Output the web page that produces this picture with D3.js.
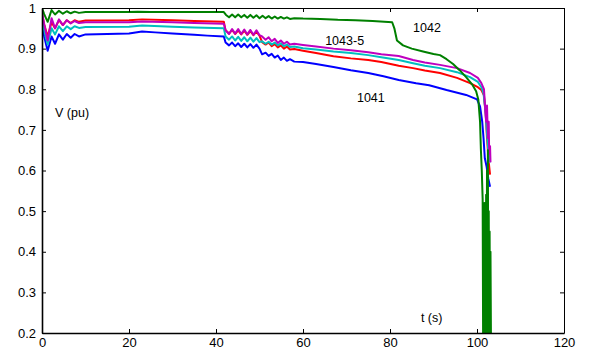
<!DOCTYPE html>
<html>
<head>
<meta charset="utf-8">
<script src="https://cdn.jsdelivr.net/npm/d3@7"></script>
<style>
  body { margin: 0; background: #fff; }
  text { font-family: "Liberation Sans", Arial, sans-serif; }
</style>
</head>
<body>
<div id="chart"></div>
<script>
// tick values
const xTicks = [0, 20, 40, 60, 80, 100, 120]
const yTicks = [0.2, 0.3, 0.4, 0.5, 0.6, 0.7, 0.8, 0.9, 1]

// bus 1042 (green)
const bus1042 = [
  [0, 1.0], [0.5, 0.985], [1.3, 0.966], [2.2, 0.995], [3.0, 0.984], [3.9, 0.993], [4.8, 0.986],
  [5.7, 0.992], [6.6, 0.987], [7.5, 0.991], [8.5, 0.988], [10, 0.99], [15, 0.99], [20, 0.99],
  [22, 0.991], [25, 0.99], [30, 0.99], [35, 0.99], [41.8, 0.99],
  [42.3, 0.983], [43, 0.977], [43.7, 0.984], [44.4, 0.977], [45.1, 0.984], [45.8, 0.977],
  [46.5, 0.983], [47.2, 0.976], [47.9, 0.983], [48.6, 0.976], [49.3, 0.982], [50, 0.975],
  [50.7, 0.981], [51.4, 0.975], [52.1, 0.98], [52.8, 0.974], [53.5, 0.979], [54.2, 0.974],
  [54.9, 0.978], [55.6, 0.974], [56.3, 0.977], [57, 0.973], [58, 0.975], [60, 0.974],
  [64, 0.973], [68, 0.971], [72, 0.97], [76, 0.968], [80.5, 0.965], [81, 0.95], [81.6, 0.92],
  [83, 0.908], [85, 0.9], [87.6, 0.893], [90, 0.887], [91.5, 0.884], [93, 0.874], [94.5, 0.862],
  [96, 0.847], [97.5, 0.83], [99, 0.81], [99.8, 0.795], [100.3, 0.775], [100.7, 0.72],
  [100.9, 0.65], [101.1, 0.6], [101.3, 0.53], [101.4, 0.2], [101.5, 0.5], [101.6, 0.2],
  [101.7, 0.52], [101.8, 0.2], [101.9, 0.5], [102.0, 0.2], [102.1, 0.54], [102.2, 0.2],
  [102.3, 0.6], [102.4, 0.2], [102.5, 0.65], [102.6, 0.2], [102.7, 0.5], [102.8, 0.2],
  [102.9, 0.45], [103.0, 0.2], [103.1, 0.4], [103.2, 0.2]
]

// bus 1041 (blue)
const bus1041 = [
  [0, 0.963], [0.5, 0.93], [1.3, 0.895], [2.2, 0.93], [3.0, 0.912], [3.9, 0.935], [4.8, 0.922],
  [5.7, 0.936], [6.6, 0.927], [7.5, 0.936], [8.5, 0.93], [10, 0.935], [15, 0.936], [20, 0.937],
  [23, 0.942], [26, 0.94], [30, 0.937], [35, 0.934], [38, 0.932], [41.8, 0.93],
  [42.2, 0.915], [43, 0.908], [43.7, 0.915], [44.4, 0.906], [45.1, 0.913], [45.8, 0.904],
  [46.5, 0.912], [47.2, 0.903], [47.9, 0.911], [48.6, 0.902], [49.3, 0.91], [50, 0.9],
  [50.6, 0.886], [51.4, 0.89], [52.1, 0.882], [52.8, 0.887], [53.5, 0.878], [54.2, 0.883],
  [54.9, 0.872], [55.6, 0.878], [56.3, 0.87], [57, 0.874], [58, 0.868], [60, 0.867],
  [63, 0.862], [67, 0.855], [71, 0.847], [75, 0.84], [78.5, 0.832], [82, 0.823], [86, 0.815],
  [89, 0.81], [93, 0.798], [97.5, 0.786], [100, 0.775], [100.7, 0.758], [101.2, 0.72],
  [101.5, 0.68], [101.8, 0.63], [102.2, 0.61], [102.6, 0.58], [103, 0.56]
]

// bus 1043 (red)
const bus1043 = [
  [0, 0.985], [0.5, 0.96], [1.3, 0.93], [2.2, 0.965], [3.0, 0.95], [3.9, 0.97], [4.8, 0.958],
  [5.7, 0.97], [6.6, 0.963], [7.5, 0.97], [8.5, 0.966], [10, 0.969], [20, 0.97], [23, 0.972],
  [30, 0.97], [35, 0.968], [41.8, 0.966],
  [42.2, 0.945], [43, 0.937], [43.7, 0.946], [44.4, 0.936], [45.1, 0.945], [45.8, 0.935],
  [46.5, 0.944], [47.2, 0.934], [47.9, 0.943], [48.6, 0.933], [49.3, 0.942], [50, 0.932],
  [50.6, 0.916], [51.4, 0.91], [52.1, 0.915], [52.8, 0.906], [53.5, 0.911], [54.2, 0.903],
  [54.9, 0.908], [55.6, 0.9], [56.3, 0.905], [57, 0.898], [58, 0.899], [60, 0.895],
  [63, 0.889], [67, 0.881], [71, 0.876], [75, 0.872], [78, 0.867], [82, 0.858],
  [85.3, 0.852], [88, 0.846], [91.5, 0.84], [95.4, 0.828], [98.4, 0.815], [100.2, 0.805],
  [101, 0.798], [101.6, 0.785], [102, 0.74], [102.3, 0.68], [102.7, 0.62], [103, 0.59]
]

// bus 1044 (cyan)
const bus1044 = [
  [0, 0.975], [0.5, 0.945], [1.3, 0.91], [2.2, 0.95], [3.0, 0.935], [3.9, 0.955], [4.8, 0.943],
  [5.7, 0.955], [6.6, 0.948], [7.5, 0.955], [8.5, 0.951], [10, 0.953], [20, 0.954], [23, 0.957],
  [30, 0.954], [35, 0.952], [41.8, 0.95],
  [42.2, 0.93], [43, 0.922], [43.7, 0.93], [44.4, 0.92], [45.1, 0.929], [45.8, 0.919],
  [46.5, 0.928], [47.2, 0.918], [47.9, 0.927], [48.6, 0.917], [49.3, 0.926], [50, 0.916],
  [50.6, 0.918], [51.4, 0.912], [52.1, 0.917], [52.8, 0.91], [53.5, 0.915], [54.2, 0.908],
  [54.9, 0.913], [55.6, 0.906], [56.3, 0.91], [57, 0.904], [58, 0.905], [60, 0.901],
  [63, 0.898], [67, 0.893], [71, 0.889], [75, 0.884], [78, 0.879], [82, 0.872],
  [85.3, 0.864], [88, 0.858], [91.5, 0.852], [95.4, 0.842], [98.4, 0.83], [100.2, 0.818],
  [101, 0.805], [101.5, 0.79], [102, 0.74], [102.3, 0.69], [102.6, 0.65], [103, 0.62]
]

// bus 1045 (magenta)
const bus1045 = [
  [0, 0.99], [0.5, 0.96], [1.3, 0.92], [2.2, 0.975], [3.0, 0.95], [3.9, 0.972], [4.8, 0.958],
  [5.7, 0.97], [6.6, 0.962], [7.5, 0.968], [8.5, 0.963], [10, 0.965], [20, 0.965], [23, 0.967],
  [30, 0.965], [35, 0.963], [41.8, 0.961],
  [42.2, 0.945], [43, 0.936], [43.7, 0.948], [44.4, 0.937], [45.1, 0.948], [45.8, 0.936],
  [46.5, 0.947], [47.2, 0.935], [47.9, 0.946], [48.6, 0.934], [49.3, 0.945], [50, 0.933],
  [50.6, 0.93], [51.4, 0.922], [52.1, 0.928], [52.8, 0.918], [53.5, 0.924], [54.2, 0.914],
  [54.9, 0.92], [55.6, 0.912], [56.3, 0.917], [57, 0.91], [58, 0.912], [60, 0.909],
  [63, 0.905], [67, 0.9], [71, 0.896], [75, 0.891], [78, 0.886], [82, 0.882],
  [85.3, 0.872], [88, 0.866], [91.5, 0.86], [95.4, 0.852], [98.4, 0.84], [100.2, 0.828],
  [101, 0.815], [101.6, 0.8], [101.9, 0.75], [102.1, 0.72], [102.3, 0.76], [102.5, 0.68],
  [102.7, 0.72], [102.8, 0.64], [103, 0.66], [103.1, 0.62]
]

const seriesList = [
  { name: '1041', values: bus1041, color: '#0000ff' },
  { name: '1043', values: bus1043, color: '#ff0000' },
  { name: '1044', values: bus1044, color: '#00bfbf' },
  { name: '1045', values: bus1045, color: '#bf00bf' },
  { name: '1042', values: bus1042, color: '#008000' }
]

// annotation labels [text, t, V]
const annotations = [
  ['1042', 85.3, 0.941],
  ['1043-5', 65.1, 0.909],
  ['1041', 72.4, 0.768],
  ['V (pu)', 3, 0.731],
  ['t (s)', 87.1, 0.227]
]

//dimensions
let dimensions = {
  width: 592,
  height: 356,
  margin: { top: 8, bottom: 23, left: 42, right: 28 }
}
dimensions.ctrWidth = dimensions.width - dimensions.margin.left - dimensions.margin.right
dimensions.ctrHeight = dimensions.height - dimensions.margin.top - dimensions.margin.bottom

const svg = d3.select('#chart')
  .append('svg')
  .attr('width', dimensions.width)
  .attr('height', dimensions.height)

const ctr = svg.append('g')
  .attr('transform', `translate(${dimensions.margin.left},${dimensions.margin.top})`)

//scales
const xScale = d3.scaleLinear().domain([0, 120]).range([0, dimensions.ctrWidth])
const yScale = d3.scaleLinear().domain([0.2, 1]).range([dimensions.ctrHeight, 0])

svg.append('defs').append('clipPath').attr('id', 'clip')
  .append('rect')
  .attr('width', dimensions.ctrWidth)
  .attr('height', dimensions.ctrHeight)

//lines
const line = d3.line()
  .x(d => xScale(d[0]))
  .y(d => yScale(d[1]))

ctr.append('g')
  .attr('clip-path', 'url(#clip)')
  .selectAll('path')
  .data(seriesList)
  .join('path')
  .attr('d', d => line(d.values))
  .attr('fill', 'none')
  .attr('stroke', d => d.color)
  .attr('stroke-width', 2)
  .attr('stroke-linejoin', 'round')

//axes with inward ticks on all sides
const fmt = d => (d === 1 ? '1' : d3.format('.1f')(d))

const xAxis = ctr.append('g')
  .attr('transform', `translate(0,${dimensions.ctrHeight})`)
  .call(d3.axisBottom(xScale).tickValues(xTicks).tickSizeInner(-4).tickSizeOuter(0).tickPadding(6))
const yAxis = ctr.append('g')
  .call(d3.axisLeft(yScale).tickValues(yTicks).tickSizeInner(-4).tickSizeOuter(0).tickPadding(6).tickFormat(fmt))
const xTop = ctr.append('g')
  .call(d3.axisTop(xScale).tickValues(xTicks).tickSizeInner(-4).tickSizeOuter(0).tickFormat(''))
const yRight = ctr.append('g')
  .attr('transform', `translate(${dimensions.ctrWidth},0)`)
  .call(d3.axisRight(yScale).tickValues(yTicks).tickSizeInner(-4).tickSizeOuter(0).tickFormat(''))

ctr.selectAll('.domain').attr('stroke', '#000').attr('stroke-width', 1)
xAxis.select('.domain').attr('stroke-width', 1.6)
yAxis.select('.domain').attr('stroke-width', 1.6)
ctr.selectAll('.tick line').attr('stroke', '#000')
ctr.selectAll('.tick text')
  .attr('fill', '#000')
  .style('font-size', '13px')
  .style('font-family', '"Liberation Sans", Arial, sans-serif')
xAxis.selectAll('.tick text').attr('dy', '0.6em')

//annotations
ctr.selectAll('text.note')
  .data(annotations)
  .join('text')
  .attr('class', 'note')
  .attr('x', d => xScale(d[1]))
  .attr('y', d => yScale(d[2]))
  .attr('fill', '#000')
  .style('font-size', '12.5px')
  .text(d => d[0])
</script>
</body>
</html>
